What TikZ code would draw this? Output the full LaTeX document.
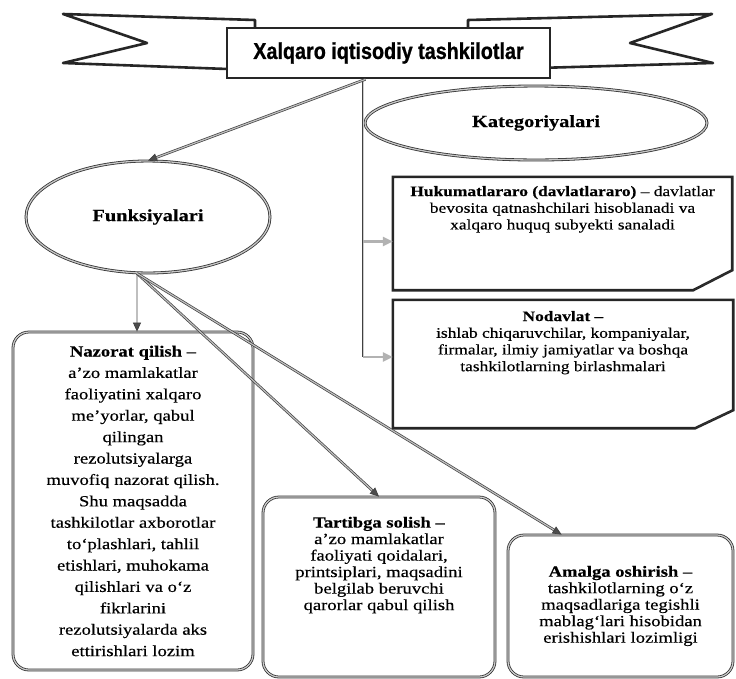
\documentclass[tikz,border=0pt]{standalone}
\usepackage{fontspec}
\setmainfont{Liberation Serif}[FakeStretch=1.2, FakeBold=0.4]
\newfontfamily\titlefont{Liberation Sans Bold}[FakeStretch=0.86, FakeBold=0.8]
\usetikzlibrary{shapes.geometric,arrows.meta,positioning}

\tikzset{
  ribbon/.style={draw=black!85, line width=2.6pt, fill=white, line join=round},
  titlebox/.style={draw=black!85, line width=2.6pt, fill=white, minimum width=323pt,
    minimum height=50pt, inner sep=0pt, font=\titlefont\fontsize{23}{26}\selectfont},
  oval/.style={ellipse, draw=black!80, double=gray!45, double distance=1.3pt,
    line width=0.8pt, inner sep=0pt, font=\bfseries\fontsize{17}{21}\selectfont},
  catbox/.style={minimum width=339pt, inner sep=0pt},
  catedge/.style={draw=black!85, line width=2.6pt, line join=miter},
  cattext/.style={align=center, inner sep=0pt, font=\fontsize{14.5}{16.7}\selectfont},
  funcbox/.style={draw=black!80, double=gray!40, double distance=1.2pt, line width=0.8pt,
    rounded corners=16pt, align=center, inner sep=0pt, font=\fontsize{15.5}{16.5}\selectfont},
  functext/.style={align=center, inner sep=0pt, font=\fontsize{15.5}{16.5}\selectfont},
  link/.style={draw=black!75, double=gray!50, double distance=1.2pt, line width=0.7pt,
    -{Triangle[length=9pt,width=8pt,fill=black!70]}},
  trunkline/.style={draw=black!75, double=gray!40, double distance=1pt, line width=0.7pt},
  stub/.style={draw=gray!60, line width=2.6pt, -{Triangle[length=10pt,width=9pt,fill=gray!60]}},
  corner/.style={fill=black!75}
}

\begin{document}
\begin{tikzpicture}[x=1pt, y=-1pt]
\useasboundingbox (0,0) rectangle (736,678);

% banner
\draw[ribbon] (63,14) -- (255,20) -- (255,70) -- (63,63) -- (147,43) -- cycle;
\draw[ribbon] (712,14) -- (468,20) -- (468,70) -- (713,63) -- (630,43) -- cycle;
\node[titlebox] (title) at (388.5,53) {Xalqaro iqtisodiy tashkilotlar};

% ovals
\node[oval, minimum width=342pt, minimum height=74pt] (cat) at (536,123) {Kategoriyalari};
\node[oval, minimum width=244pt, minimum height=112pt] (func) at (148,217) {Funksiyalari};

% categories
\node[catbox, minimum height=113pt] (huk) at (562.5,233.5) {};
\draw[catedge] (huk.north west) -- (huk.north east) -- ([yshift=20pt]huk.south east)
  -- ([xshift=-39pt]huk.south east) -- (huk.south west) -- cycle;
\fill[corner] ([xshift=-39pt]huk.south east) -- ([yshift=20pt]huk.south east)
  -- ([xshift=-18pt,yshift=11pt]huk.south east) -- cycle;
\node[cattext, below=9pt of huk.north] (huktext)
  {\textbf{Hukumatlararo (davlatlararo)} – davlatlar\\
   bevosita qatnashchilari hisoblanadi va\\
   xalqaro huquq subyekti sanaladi};

\node[catbox, minimum width=340pt, minimum height=128pt] (nod) at (563,364) {};
\draw[catedge] (nod.north west) -- (nod.north east) -- ([yshift=18pt]nod.south east)
  -- ([xshift=-38pt]nod.south east) -- (nod.south west) -- cycle;
\fill[corner] ([xshift=-38pt]nod.south east) -- ([yshift=18pt]nod.south east)
  -- ([xshift=-18pt,yshift=10pt]nod.south east) -- cycle;
\node[cattext, below=11pt of nod.north] (nodtext)
  {\textbf{Nodavlat –}\\
   ishlab chiqaruvchilar, kompaniyalar,\\
   firmalar, ilmiy jamiyatlar va boshqa\\
   tashkilotlarning birlashmalari};

% functions
\node[funcbox, minimum width=240pt, minimum height=338pt, font=\fontsize{15.5}{21.4}\selectfont]
  (naz) at (133,501)
  {\textbf{Nazorat qilish –}\\
   a’zo mamlakatlar\\
   faoliyatini xalqaro\\
   me’yorlar, qabul\\
   qilingan\\
   rezolutsiyalarga\\
   muvofiq nazorat qilish.\\
   Shu maqsadda\\
   tashkilotlar axborotlar\\
   to‘plashlari, tahlil\\
   etishlari, muhokama\\
   qilishlari va o‘z\\
   fikrlarini\\
   rezolutsiyalarda aks\\
   ettirishlari lozim};

\node[funcbox, minimum width=232pt, minimum height=180pt] (tart) at (379,587) {};
\node[functext, below=20pt of tart.north] (tarttext)
  {\textbf{Tartibga solish –}\\
   a’zo mamlakatlar\\
   faoliyati qoidalari,\\
   printsiplari, maqsadini\\
   belgilab beruvchi\\
   qarorlar qabul qilish};

\node[funcbox, minimum width=225pt, minimum height=142pt] (amal) at (620.5,606)
  {\textbf{Amalga oshirish –}\\
   tashkilotlarning o‘z\\
   maqsadlariga tegishli\\
   mablag‘lari hisobidan\\
   erishishlari lozimligi};

% connectors
\coordinate (trunk) at ([xshift=-25.5pt]title.south);
\coordinate (hukin) at ([yshift=-8pt]huk.west);
\coordinate (nodin) at ([yshift=7pt]nod.west);
\draw[trunkline] (trunk) -- (trunk |- nodin);
\draw[stub] (trunk |- hukin) -- (hukin);
\draw[stub] (trunk |- nodin) -- (nodin);
\draw[link] ([xshift=-23pt]title.south) -- (func.north);

\coordinate (fork) at ([xshift=-11pt]func.south);
\draw[link] (fork) -- (fork |- naz.north);
\draw[link] (fork) -- (tart.north);
\draw[link] (fork) -- ([xshift=54pt]amal.north west);
\end{tikzpicture}
\end{document}
